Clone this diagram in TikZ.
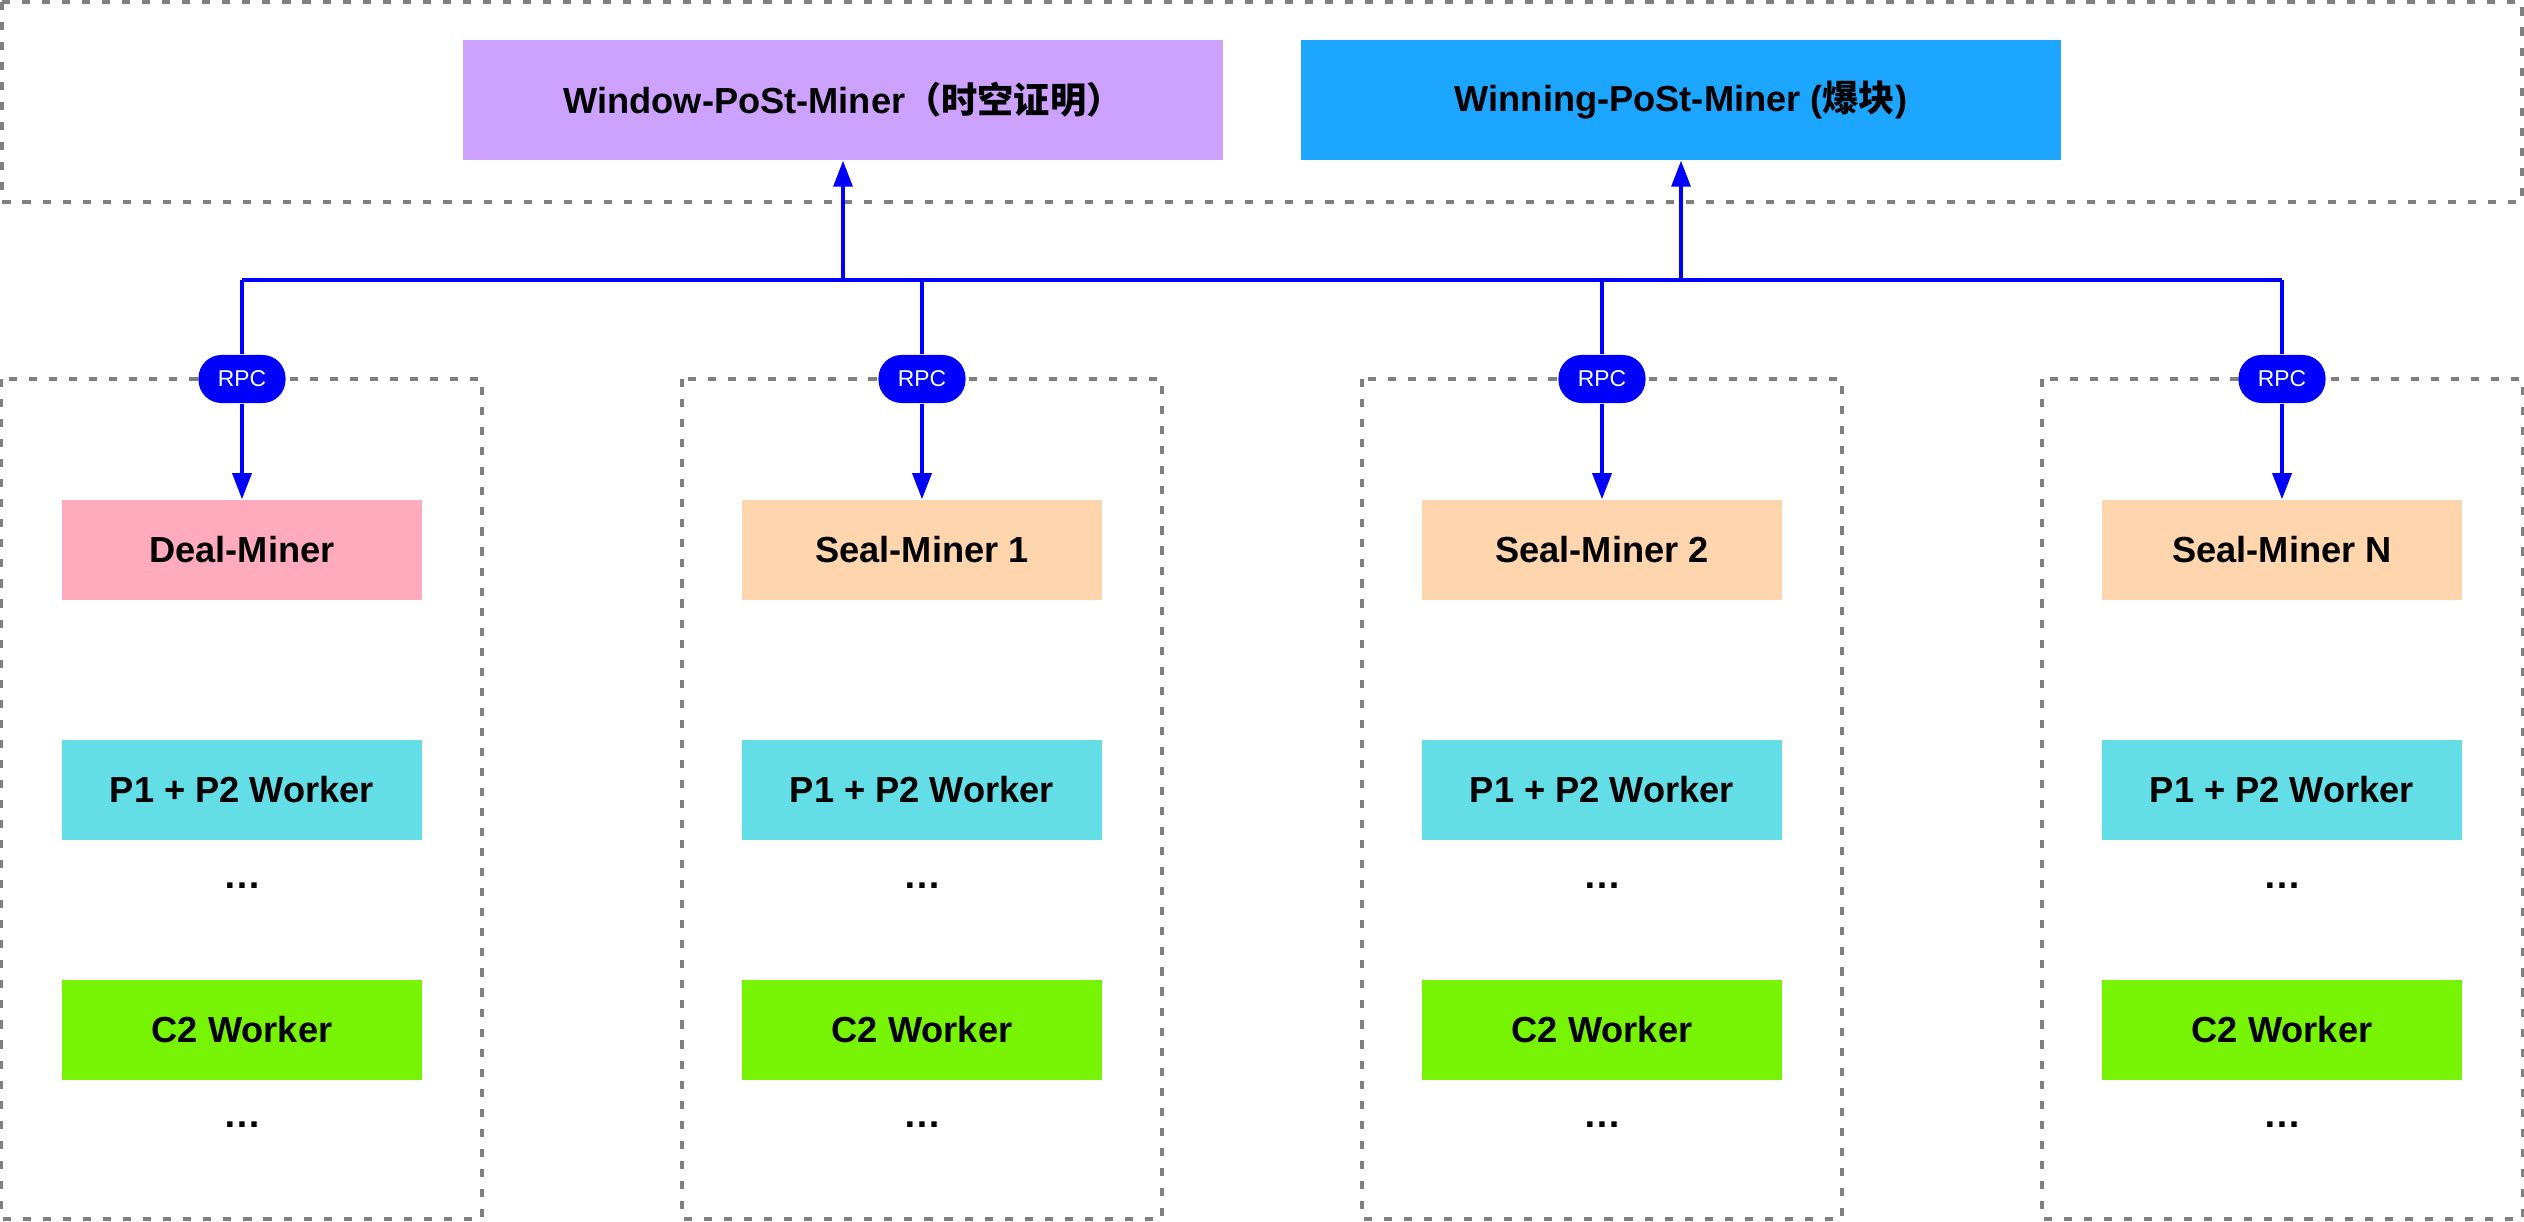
\documentclass[tikz,border=0pt]{standalone}
\usepackage{fontspec}
\setmainfont{Liberation Sans}
\newfontfamily\cjk{Noto Sans CJK SC}
\usepackage{tikz}
\usetikzlibrary{arrows.meta, positioning}

\definecolor{rpcblue}{RGB}{0,0,255}
\definecolor{framegray}{RGB}{128,128,128}
\definecolor{windowc}{RGB}{205,161,254}
\definecolor{winningc}{RGB}{28,166,255}
\definecolor{dealc}{RGB}{255,170,189}
\definecolor{sealc}{RGB}{255,213,173}
\definecolor{p12c}{RGB}{99,222,230}
\definecolor{c2c}{RGB}{119,243,4}

\begin{document}
\begin{tikzpicture}[x=0.01cm, y=-0.01cm,
    frame/.style={draw=framegray, line width=1.1pt, dash pattern=on 2.3pt off 3.4pt},
    postbox/.style={minimum width=7.6cm, minimum height=1.2cm, inner sep=0pt,
        font=\fontsize{10.3}{12}\selectfont\bfseries},
    minerbox/.style={minimum width=3.6cm, minimum height=1cm, inner sep=0pt,
        font=\fontsize{10.3}{12}\selectfont\bfseries},
    rpc/.style={fill=rpcblue, text=white, rounded corners=0.23cm,
        minimum width=0.87cm, minimum height=0.48cm, inner sep=0pt,
        font=\fontsize{6.5}{8}\selectfont},
    more/.style={anchor=base, inner sep=0pt, font=\fontsize{10.8}{12}\selectfont\bfseries},
    link/.style={draw=rpcblue, line width=0.9pt},
    arr/.style={link, -{Triangle[length=0.26cm, width=0.19cm]}}]
    \useasboundingbox (0,0) rectangle (2524,1222);

    % dashed frames
    \draw[frame] (2,2) rectangle (2522,202);
    \draw[frame] (1,379) rectangle (482,1219);
    \draw[frame] (682,379) rectangle (1162,1219);
    \draw[frame] (1362,379) rectangle (1842,1219);
    \draw[frame] (2042,379) rectangle (2523,1219);

    % PoSt miners
    \node[postbox, fill=windowc] (WP) at (843,100) {Window-PoSt-Miner{\cjk （时空证明）}};
    \node[postbox, fill=winningc] (NP) at (1681,100) {Winning-PoSt-Miner ({\cjk 爆块})};

    % bus
    \coordinate (B1) at (242,280);
    \coordinate (B2) at (922,280);
    \coordinate (B3) at (1602,280);
    \coordinate (B4) at (2282,280);
    \coordinate (BW) at (843,280);
    \coordinate (BN) at (1681,280);
    \draw[link, line width=1.2pt] (B1) -- (B4);
    \draw[arr] (BW) -- (WP);
    \draw[arr] (BN) -- (NP);

    % RPC
    \node[rpc] (R1) at (242,379) {RPC};
    \node[rpc] (R2) at (922,379) {RPC};
    \node[rpc] (R3) at (1602,379) {RPC};
    \node[rpc] (R4) at (2282,379) {RPC};

    % miners
    \node[minerbox, fill=dealc] (S1) at (242,550) {Deal-Miner};
    \node[minerbox, fill=sealc] (S2) at (922,550) {Seal-Miner 1};
    \node[minerbox, fill=sealc] (S3) at (1602,550) {Seal-Miner 2};
    \node[minerbox, fill=sealc] (S4) at (2282,550) {Seal-Miner N};

    \draw[link] (B1) -- (R1);
    \draw[link] (B2) -- (R2);
    \draw[link] (B3) -- (R3);
    \draw[link] (B4) -- (R4);
    \draw[arr] (R1) -- (S1);
    \draw[arr] (R2) -- (S2);
    \draw[arr] (R3) -- (S3);
    \draw[arr] (R4) -- (S4);

    % workers
    \node[minerbox, fill=p12c] (P1) at (242,790) {P1 + P2 Worker};
    \node[minerbox, fill=p12c] (P2) at (922,790) {P1 + P2 Worker};
    \node[minerbox, fill=p12c] (P3) at (1602,790) {P1 + P2 Worker};
    \node[minerbox, fill=p12c] (P4) at (2282,790) {P1 + P2 Worker};
    \node[more] (D1) at (242,888) {…};
    \node[more] (D2) at (922,888) {…};
    \node[more] (D3) at (1602,888) {…};
    \node[more] (D4) at (2282,888) {…};

    \node[minerbox, fill=c2c] (C1) at (242,1030) {C2 Worker};
    \node[minerbox, fill=c2c] (C2) at (922,1030) {C2 Worker};
    \node[minerbox, fill=c2c] (C3) at (1602,1030) {C2 Worker};
    \node[minerbox, fill=c2c] (C4) at (2282,1030) {C2 Worker};
    \node[more] (E1) at (242,1127) {…};
    \node[more] (E2) at (922,1127) {…};
    \node[more] (E3) at (1602,1127) {…};
    \node[more] (E4) at (2282,1127) {…};
\end{tikzpicture}
\end{document}
